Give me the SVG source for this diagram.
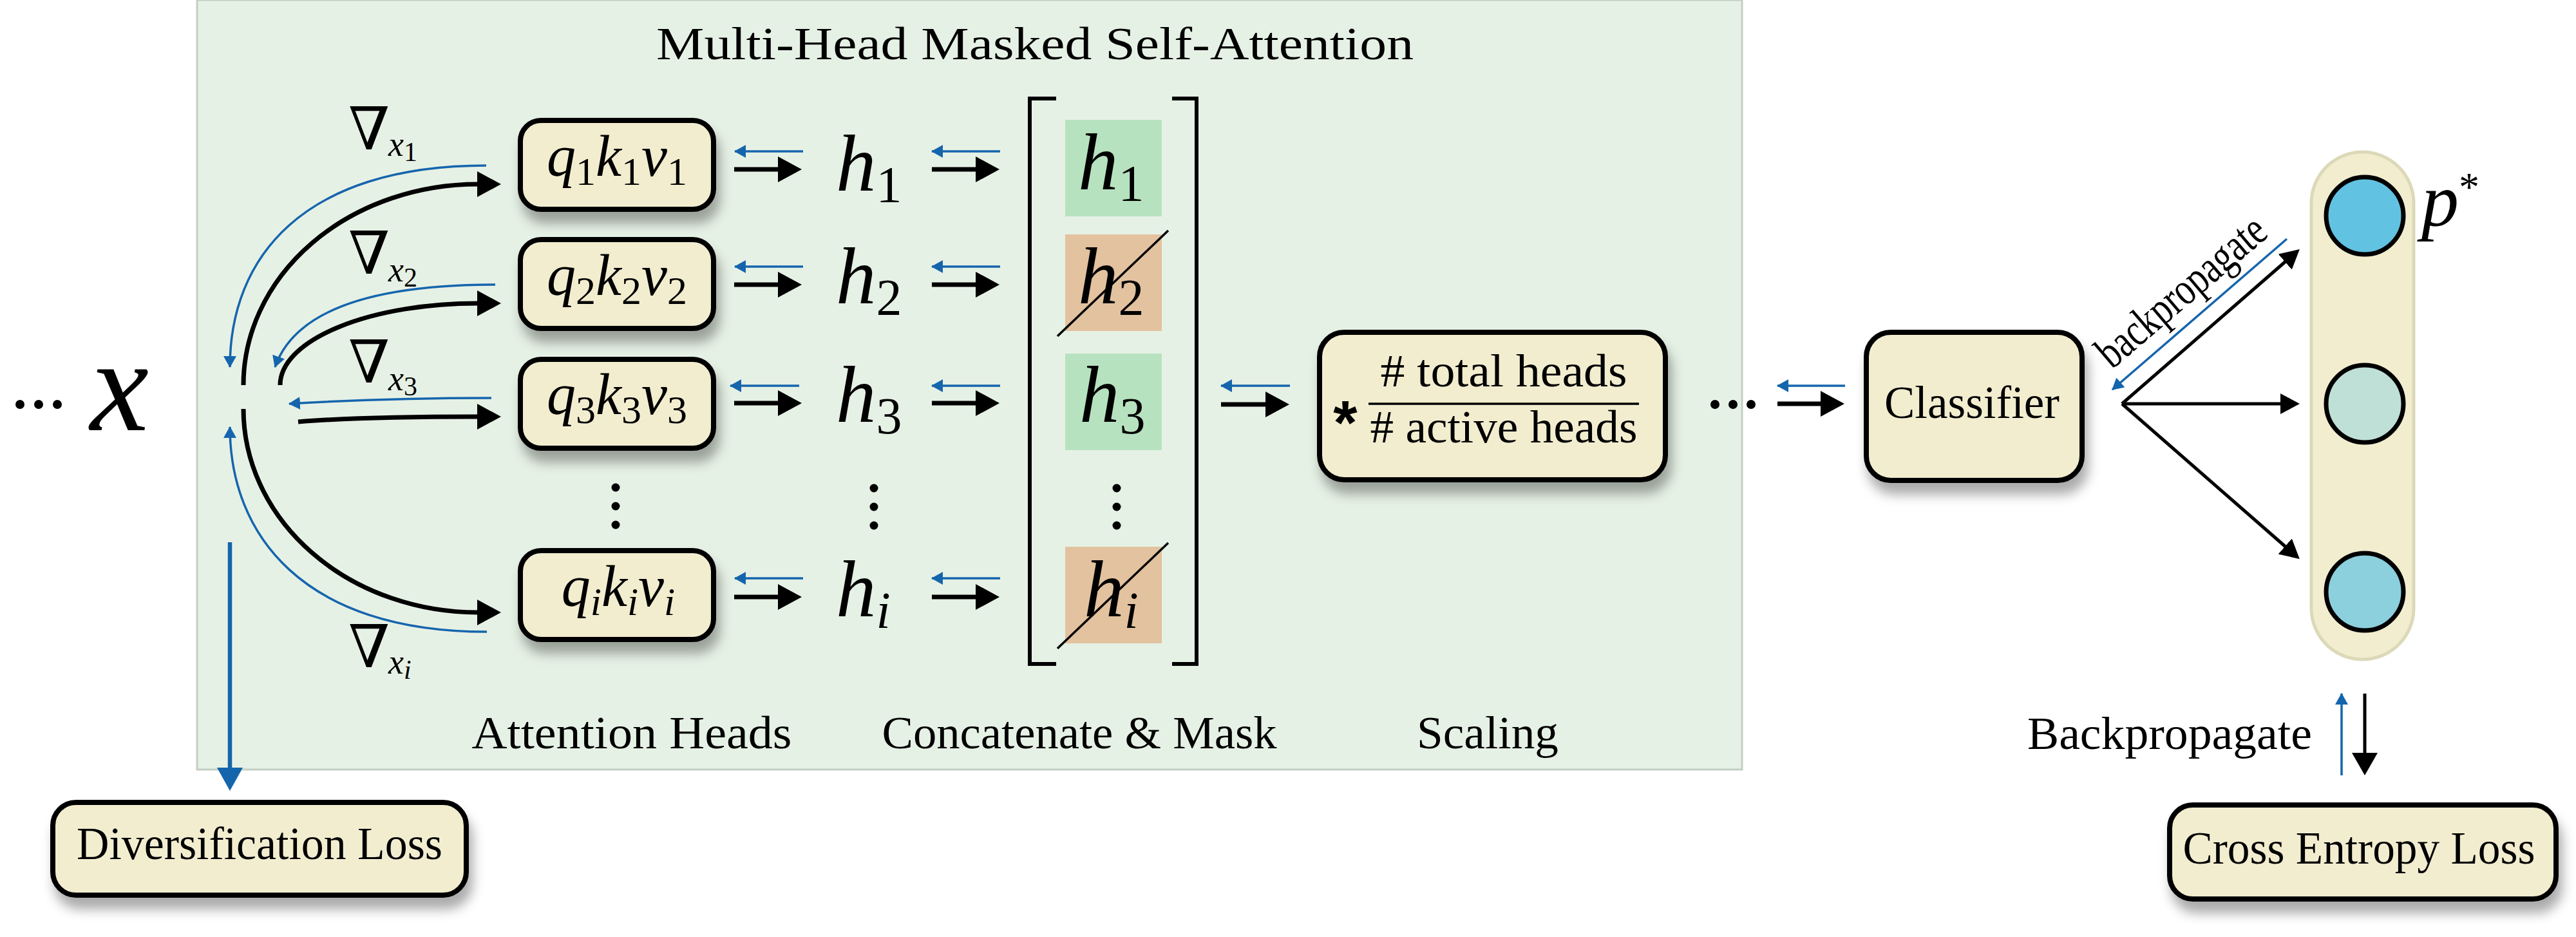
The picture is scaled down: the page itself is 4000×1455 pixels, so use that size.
<svg xmlns="http://www.w3.org/2000/svg" width="4000" height="1455" viewBox="0 0 4000 1455">
<style>
.lbl{font-family:"Liberation Serif","Times New Roman",serif;font-size:72px;fill:#000}
.mi{font-family:"Liberation Serif","Times New Roman",serif;font-style:italic;fill:#000}
.up{font-style:normal}
.nab{font-family:"DejaVu Serif",serif;font-size:92px;fill:#000}
.box{fill:#f2edcf;stroke:#000;stroke-width:8;filter:url(#sh)}
.bk{fill:none;stroke:#000;stroke-width:7}
.bl{fill:none;stroke:#1565ad;stroke-width:3.5}
.dot{fill:#000}
</style>
<defs>
<filter id="sh" x="-15%" y="-15%" width="135%" height="160%">
<feDropShadow dx="6" dy="18" stdDeviation="9" flood-color="#000" flood-opacity="0.33"/>
</filter>
<marker id="ab" markerUnits="userSpaceOnUse" viewBox="0 0 37 40" refX="1" refY="20" markerWidth="37" markerHeight="40" orient="auto"><path d="M0,0L37,20L0,40z" fill="#000"/></marker>
<marker id="af" markerUnits="userSpaceOnUse" viewBox="0 0 30 32" refX="1" refY="16" markerWidth="30" markerHeight="32" orient="auto"><path d="M0,0L30,16L0,32z" fill="#000"/></marker>
<marker id="ad" markerUnits="userSpaceOnUse" viewBox="0 0 35 40" refX="1" refY="20" markerWidth="35" markerHeight="40" orient="auto"><path d="M0,0L35,20L0,40z" fill="#000"/></marker>
<marker id="as" markerUnits="userSpaceOnUse" viewBox="0 0 18 20" refX="17" refY="10" markerWidth="18" markerHeight="20" orient="auto"><path d="M0,0L18,10L0,20z" fill="#1565ad"/></marker>
<marker id="abl" markerUnits="userSpaceOnUse" viewBox="0 0 36 40" refX="1" refY="20" markerWidth="36" markerHeight="40" orient="auto"><path d="M0,0L36,20L0,40z" fill="#1565ad"/></marker>
</defs>
<rect width="4000" height="1455" fill="#fff"/>

<g id="panel">
<rect x="306" y="0" width="2399" height="1195" fill="#e6f1e5" stroke="#c3cfc3" stroke-width="3"/>
<text x="1607" y="92" class="lbl" font-size="78" text-anchor="middle" textLength="1176" lengthAdjust="spacingAndGlyphs">Multi-Head Masked Self-Attention</text>
</g>

<g id="input-x">
<circle cx="31" cy="628" r="7" class="dot"/><circle cx="60" cy="628" r="7" class="dot"/><circle cx="89" cy="628" r="7" class="dot"/>
<text x="140" y="668" class="mi" font-size="205">x</text>
</g>

<g id="grad-labels">
<text x="541" y="232" class="nab">∇<tspan x="603" dy="10" class="mi" font-size="54">x</tspan><tspan dy="8" class="mi up" font-size="42">1</tspan></text>
<text x="541" y="425" class="nab">∇<tspan x="603" dy="12" class="mi" font-size="54">x</tspan><tspan dy="8" class="mi up" font-size="42">2</tspan></text>
<text x="541" y="594" class="nab">∇<tspan x="603" dy="12" class="mi" font-size="54">x</tspan><tspan dy="8" class="mi up" font-size="42">3</tspan></text>
<text x="541" y="1036" class="nab">∇<tspan x="603" dy="10" class="mi" font-size="54">x</tspan><tspan dy="8" class="mi" font-size="42">i</tspan></text>
</g>

<g id="head-1"><rect x="808" y="187" width="300" height="138" rx="32" class="box"/>
<text x="958" y="273" class="mi" font-size="90" text-anchor="middle">q<tspan class="up" font-size="62" dy="14">1</tspan><tspan dy="-14">k</tspan><tspan class="up" font-size="62" dy="14">1</tspan><tspan dy="-14">v</tspan><tspan class="up" font-size="62" dy="14">1</tspan></text></g>
<g id="head-2"><rect x="808" y="372" width="300" height="138" rx="32" class="box"/>
<text x="958" y="458" class="mi" font-size="90" text-anchor="middle">q<tspan class="up" font-size="62" dy="14">2</tspan><tspan dy="-14">k</tspan><tspan class="up" font-size="62" dy="14">2</tspan><tspan dy="-14">v</tspan><tspan class="up" font-size="62" dy="14">2</tspan></text></g>
<g id="head-3"><rect x="808" y="558" width="300" height="138" rx="32" class="box"/>
<text x="958" y="643" class="mi" font-size="90" text-anchor="middle">q<tspan class="up" font-size="62" dy="14">3</tspan><tspan dy="-14">k</tspan><tspan class="up" font-size="62" dy="14">3</tspan><tspan dy="-14">v</tspan><tspan class="up" font-size="62" dy="14">3</tspan></text></g>
<g id="head-dots"><circle cx="956" cy="757" r="6.5" class="dot"/><circle cx="956" cy="786" r="6.5" class="dot"/><circle cx="956" cy="815" r="6.5" class="dot"/></g>
<g id="head-i"><rect x="808" y="855" width="300" height="138" rx="32" class="box"/>
<text x="960" y="941" class="mi" font-size="90" text-anchor="middle">q<tspan font-size="62" dy="14">i</tspan><tspan dy="-14">k</tspan><tspan font-size="62" dy="14">i</tspan><tspan dy="-14">v</tspan><tspan font-size="62" dy="14">i</tspan></text></g>

<g id="h-column">
<text x="1298" y="296" class="mi" font-size="125">h<tspan class="up" font-size="80" dy="18">1</tspan></text>
<text x="1298" y="471" class="mi" font-size="125">h<tspan class="up" font-size="80" dy="18">2</tspan></text>
<text x="1298" y="655" class="mi" font-size="125">h<tspan class="up" font-size="80" dy="18">3</tspan></text>
<circle cx="1357" cy="758" r="6.5" class="dot"/><circle cx="1357" cy="787" r="6.5" class="dot"/><circle cx="1357" cy="816" r="6.5" class="dot"/>
<text x="1298" y="957" class="mi" font-size="125">h<tspan font-size="80" dy="18">i</tspan></text>
</g>

<g id="concat-mask">
<path d="M1640,153H1599V1031H1640" fill="none" stroke="#000" stroke-width="6"/>
<path d="M1820,153H1858V1031H1820" fill="none" stroke="#000" stroke-width="6"/>
<rect x="1654" y="186" width="150" height="150" fill="#b7e2c0"/>
<rect x="1654" y="364" width="150" height="150" fill="#e3c29f"/>
<rect x="1654" y="549" width="150" height="150" fill="#b7e2c0"/>
<rect x="1654" y="849" width="150" height="150" fill="#e3c29f"/>
<text x="1674" y="294" class="mi" font-size="125">h<tspan class="up" font-size="80" dy="18">1</tspan></text>
<text x="1674" y="471" class="mi" font-size="125">h<tspan class="up" font-size="80" dy="18">2</tspan></text>
<text x="1676" y="655" class="mi" font-size="125">h<tspan class="up" font-size="80" dy="18">3</tspan></text>
<circle cx="1734" cy="758" r="6.5" class="dot"/><circle cx="1734" cy="787" r="6.5" class="dot"/><circle cx="1734" cy="816" r="6.5" class="dot"/>
<text x="1683" y="957" class="mi" font-size="125">h<tspan font-size="80" dy="18">i</tspan></text>
<line x1="1642" y1="522" x2="1814" y2="358" stroke="#000" stroke-width="3.5"/>
<line x1="1642" y1="1007" x2="1814" y2="843" stroke="#000" stroke-width="3.5"/>
</g>

<g id="scaling"><rect x="2049" y="516" width="537" height="229" rx="38" class="box"/>
<text x="2089" y="689" font-family="Liberation Sans,Arial,sans-serif" font-weight="bold" font-size="96" text-anchor="middle">*</text>
<text x="2335" y="600" class="lbl" font-size="66" text-anchor="middle" textLength="383" lengthAdjust="spacingAndGlyphs"># total heads</text>
<line x1="2125" y1="627" x2="2545" y2="627" stroke="#000" stroke-width="3.5"/>
<text x="2335" y="687" class="lbl" font-size="66" text-anchor="middle" textLength="415" lengthAdjust="spacingAndGlyphs"># active heads</text>
</g>

<g id="ellipsis"><circle cx="2663" cy="628" r="7" class="dot"/><circle cx="2691" cy="628" r="7" class="dot"/><circle cx="2719" cy="628" r="7" class="dot"/></g>

<g id="classifier"><rect x="2898" y="516" width="335" height="230" rx="38" class="box"/>
<text x="3062" y="649" class="lbl" text-anchor="middle" textLength="272" lengthAdjust="spacingAndGlyphs">Classifier</text></g>

<g id="output-layer">
<rect x="3589" y="236" width="159" height="788" rx="79.5" fill="#f2edcf" stroke="#dcd9b9" stroke-width="5"/>
<circle cx="3672" cy="335" r="60" fill="#62c2e2" stroke="#000" stroke-width="7"/>
<circle cx="3672" cy="627" r="60" fill="#bfe0d6" stroke="#000" stroke-width="7"/>
<circle cx="3672" cy="919" r="60" fill="#8ccfdd" stroke="#000" stroke-width="7"/>
<text x="3760" y="350" class="mi" font-size="116">p<tspan class="up" font-size="64" dy="-38">*</tspan></text>
</g>

<g id="diversification-loss"><rect x="82" y="1246" width="642" height="144" rx="36" class="box"/>
<text x="403" y="1334" class="lbl" font-size="68" text-anchor="middle" textLength="568" lengthAdjust="spacingAndGlyphs">Diversification Loss</text></g>

<g id="cross-entropy-loss"><rect x="3369" y="1250" width="600" height="146" rx="36" class="box"/>
<text x="3663" y="1341" class="lbl" font-size="68" text-anchor="middle" textLength="547" lengthAdjust="spacingAndGlyphs">Cross Entropy Loss</text></g>

<g id="labels">
<text x="981" y="1162" class="lbl" text-anchor="middle" textLength="497" lengthAdjust="spacingAndGlyphs">Attention Heads</text>
<text x="1676" y="1162" class="lbl" text-anchor="middle" textLength="613" lengthAdjust="spacingAndGlyphs">Concatenate &amp; Mask</text>
<text x="2310" y="1162" class="lbl" text-anchor="middle" textLength="220" lengthAdjust="spacingAndGlyphs">Scaling</text>
<text x="3148" y="1163" class="lbl" textLength="442" lengthAdjust="spacingAndGlyphs">Backpropagate</text>
<text x="3402" y="470" class="lbl" font-size="54" text-anchor="middle" textLength="322" lengthAdjust="spacingAndGlyphs" transform="rotate(-40.4 3402 470)">backpropagate</text>
</g>

<g id="connectors">
<path class="bk" d="M378,598A364,312 0 0 1 742,286" marker-end="url(#ab)"/>
<path class="bk" d="M435,598A307,127 0 0 1 742,471" marker-end="url(#ab)"/>
<path class="bk" d="M463,655Q560,647 742,647" marker-end="url(#ab)"/>
<path class="bk" d="M378,635A364,316 0 0 0 742,951" marker-end="url(#ab)"/>
<path class="bl" d="M755,257C470,257 357,400 357,570" marker-end="url(#as)"/>
<path class="bl" d="M769,442C560,442 455,490 427,570" marker-end="url(#as)"/>
<path class="bl" d="M763,618Q600,618 449,627" marker-end="url(#as)"/>
<path class="bl" d="M756,981C470,981 357,830 357,663" marker-end="url(#as)"/>
<path d="M357,842V1193" fill="none" stroke="#1565ad" stroke-width="6.5" marker-end="url(#abl)"/>

<path class="bk" d="M1140,263H1209" marker-end="url(#ab)"/><path class="bl" d="M1247,235H1141" marker-end="url(#as)"/>
<path class="bk" d="M1447,263H1516" marker-end="url(#ab)"/><path class="bl" d="M1553,235H1447" marker-end="url(#as)"/>
<path class="bk" d="M1140,442H1209" marker-end="url(#ab)"/><path class="bl" d="M1247,414H1141" marker-end="url(#as)"/>
<path class="bk" d="M1447,442H1516" marker-end="url(#ab)"/><path class="bl" d="M1553,414H1447" marker-end="url(#as)"/>
<path class="bk" d="M1140,626H1209" marker-end="url(#ab)"/><path class="bl" d="M1241,599H1134" marker-end="url(#as)"/>
<path class="bk" d="M1447,626H1516" marker-end="url(#ab)"/><path class="bl" d="M1553,599H1447" marker-end="url(#as)"/>
<path class="bk" d="M1140,927H1209" marker-end="url(#ab)"/><path class="bl" d="M1247,898H1141" marker-end="url(#as)"/>
<path class="bk" d="M1447,927H1516" marker-end="url(#ab)"/><path class="bl" d="M1553,898H1447" marker-end="url(#as)"/>

<path class="bk" d="M1896,628H1966" marker-end="url(#ab)"/><path class="bl" d="M2003,599H1896" marker-end="url(#as)"/>
<path class="bk" d="M2760,627H2828" marker-end="url(#ab)"/><path class="bl" d="M2865,599H2760" marker-end="url(#as)"/>

<path d="M3295,627L3549,406" fill="none" stroke="#000" stroke-width="5" marker-end="url(#af)"/>
<path d="M3295,627H3542" fill="none" stroke="#000" stroke-width="5" marker-end="url(#af)"/>
<path d="M3295,627L3549,849" fill="none" stroke="#000" stroke-width="5" marker-end="url(#af)"/>
<path class="bl" d="M3551,371L3280,605" marker-end="url(#as)"/>

<path d="M3636,1204V1077" class="bl" marker-end="url(#as)"/>
<path d="M3672,1077V1170" fill="none" stroke="#000" stroke-width="5" marker-end="url(#ad)"/>
</g>
</svg>
